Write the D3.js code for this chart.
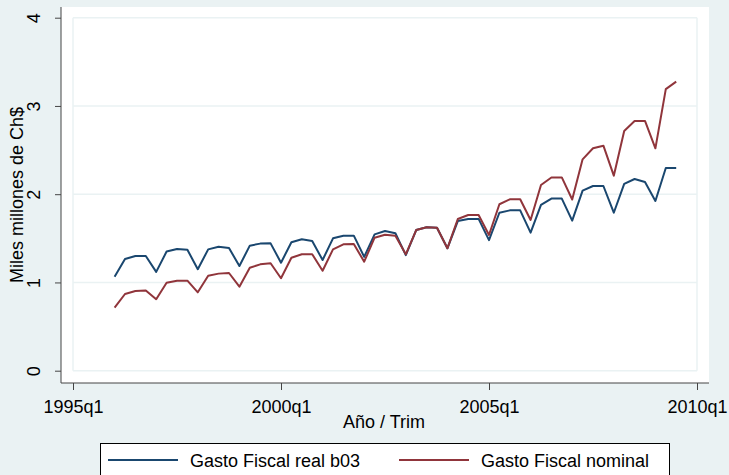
<!DOCTYPE html>
<meta charset="utf-8">
<style>
body { margin: 0; background: #eaf2f3; }
text { font-family: "Liberation Sans", Arial, sans-serif; fill: #000; }
.line { fill: none; stroke-width: 2; stroke-linejoin: round; }
</style>
<script src="https://d3js.org/d3.v7.min.js"></script>
<body>
<script>

// quarters 1996q1 .. 2009q3
var startYear = 1996;
var realB03 = [
  1.065, 1.266, 1.30, 1.30,
  1.12, 1.35, 1.38, 1.37,
  1.15, 1.375, 1.405, 1.39,
  1.186, 1.417, 1.44, 1.443,
  1.224, 1.455, 1.49, 1.47,
  1.254, 1.50, 1.53, 1.53,
  1.29, 1.545, 1.583, 1.557,
  1.31, 1.594, 1.625, 1.62,
  1.387, 1.696, 1.719, 1.72,
  1.48, 1.79, 1.817, 1.817,
  1.564, 1.878, 1.95, 1.95,
  1.70, 2.04, 2.093, 2.093,
  1.79, 2.116, 2.172, 2.138,
  1.923, 2.297, 2.297
];
var nominal = [
  0.714, 0.869, 0.903, 0.91,
  0.81, 0.997, 1.02, 1.02,
  0.888, 1.077, 1.10, 1.107,
  0.952, 1.167, 1.205, 1.217,
  1.047, 1.28, 1.32, 1.32,
  1.133, 1.375, 1.432, 1.436,
  1.235, 1.507, 1.541, 1.53,
  1.319, 1.594, 1.625, 1.62,
  1.387, 1.719, 1.764, 1.764,
  1.538, 1.886, 1.942, 1.942,
  1.708, 2.104, 2.19, 2.19,
  1.94, 2.395, 2.52, 2.55,
  2.21, 2.716, 2.83, 2.83,
  2.52, 3.19, 3.275
];
var xTicks = [1995, 2000, 2005, 2010];
var yTicks = [0, 1, 2, 3, 4];
var seriesNames = ["Gasto Fiscal real b03", "Gasto Fiscal nominal"];
var seriesColors = ["#1a476f", "#90353b"];

var width = 729, height = 475;
var svg = d3.select("body").append("svg")
  .attr("width", width).attr("height", height);

// quarter index counted from 1995q1
var x = d3.scaleLinear().domain([0, 60]).range([73, 697]);
var y = d3.scaleLinear().domain([0, 4]).range([370.7, 17.7]);

// plot region
svg.append("rect")
  .attr("x", 61).attr("y", 7)
  .attr("width", 648).attr("height", 376)
  .attr("fill", "#fff");

// grid
svg.append("g").selectAll("line")
  .data(yTicks).enter().append("line")
  .attr("x1", x(0)).attr("x2", x(60))
  .attr("y1", d => y(d)).attr("y2", d => y(d))
  .attr("stroke", "#eaf2f3").attr("stroke-width", 1.5);
svg.append("g").selectAll("line")
  .data([0, 60]).enter().append("line")
  .attr("x1", d => x(d)).attr("x2", d => x(d))
  .attr("y1", y(0)).attr("y2", y(4))
  .attr("stroke", "#eaf2f3").attr("stroke-width", 1.5);

// axes
var yAxis = svg.append("g").attr("transform", "translate(61,0)")
  .call(d3.axisLeft(y).tickValues(yTicks).tickSize(6).tickPadding(13).tickFormat(d3.format("d")));
yAxis.select(".domain").attr("d", "M0,7V383").attr("stroke", "#444");
yAxis.selectAll(".tick line").attr("stroke", "#444");
yAxis.selectAll(".tick text")
  .attr("transform", "rotate(-90)")
  .attr("x", 0).attr("y", -21)
  .attr("dy", 0)
  .attr("text-anchor", "middle")
  .style("font-size", "18px").style("font-family", "Liberation Sans, Arial, sans-serif");

var xAxis = svg.append("g").attr("transform", "translate(0,383)")
  .call(d3.axisBottom(x).tickValues(xTicks.map(d => (d - 1995) * 4))
    .tickSize(7).tickPadding(10)
    .tickFormat(d => (1995 + d / 4) + "q1"));
xAxis.select(".domain").attr("d", "M61,0H709").attr("stroke", "#444");
xAxis.selectAll(".tick line").attr("stroke", "#444");
xAxis.selectAll(".tick text")
  .style("font-size", "18px").style("font-family", "Liberation Sans, Arial, sans-serif");

// titles
svg.append("text")
  .attr("x", 384).attr("y", 428)
  .attr("text-anchor", "middle")
  .style("font-size", "18px")
  .text("Año / Trim");
svg.append("text")
  .attr("transform", "translate(23,195) rotate(-90)")
  .attr("text-anchor", "middle")
  .style("font-size", "18px")
  .text("Miles millones de Ch$");

// lines
var offset = (startYear - 1995) * 4;
var line = d3.line().x((d, i) => x(i + offset)).y(d => y(d));
[realB03, nominal].forEach(function(s, k) {
  svg.append("path")
    .datum(s)
    .attr("class", "line")
    .attr("stroke", seriesColors[k])
    .attr("d", line);
});

// legend
var legend = svg.append("g");
legend.append("rect")
  .attr("x", 100.5).attr("y", 443.5)
  .attr("width", 569).attr("height", 50)
  .attr("fill", "#fff").attr("stroke", "#000").attr("stroke-width", 1);
var legX = [108, 399];
seriesNames.forEach(function(name, k) {
  legend.append("line")
    .attr("x1", legX[k]).attr("x2", legX[k] + 70)
    .attr("y1", 460).attr("y2", 460)
    .attr("stroke", seriesColors[k]).attr("stroke-width", 2);
  legend.append("text")
    .attr("x", legX[k] + 82).attr("y", 467)
    .style("font-size", "18px")
    .text(name);
});

</script>
</body>
